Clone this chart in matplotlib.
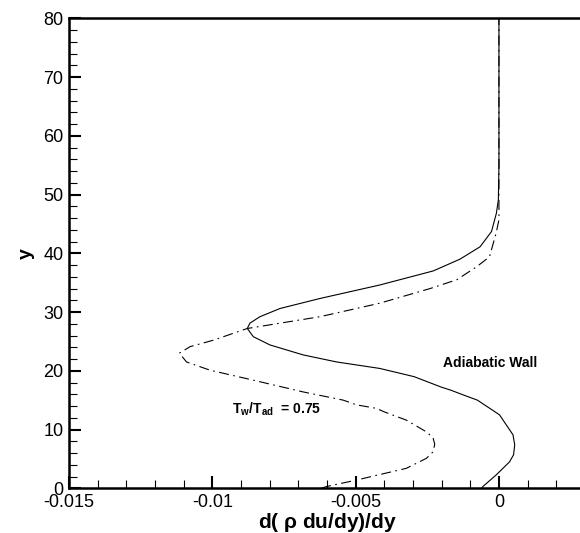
import matplotlib
matplotlib.use('Agg')
import matplotlib.pyplot as plt
from matplotlib.ticker import MultipleLocator

plt.rcParams['font.family'] = ['Liberation Sans', 'DejaVu Sans']
plt.rcParams['mathtext.fontset'] = 'custom'
plt.rcParams['mathtext.rm'] = 'Liberation Sans:bold'
plt.rcParams['mathtext.bf'] = 'Liberation Sans:bold'
plt.rcParams['mathtext.it'] = 'Liberation Sans:bold'

# adiabatic wall (solid)
adia_y = [0, 0.3, 2.3, 4.5, 5.7, 7.4, 9.1, 12.5, 15.0, 15.9, 16.7, 17.2, 19.0, 20.4,
          21.5, 22.7, 24.4, 25.8, 27.2, 28.1, 29.2, 30.6, 32.3, 34.6, 37.0, 39.0,
          41.1, 43.7, 46.8, 49.1, 55, 80]
adia_x = [-0.0006, -0.00056, -0.00009, 0.00037, 0.00051, 0.00055, 0.00049, 0.00002,
          -0.00075, -0.00125, -0.00168, -0.0020, -0.00296, -0.00416, -0.00566, -0.00683,
          -0.00799, -0.00857, -0.00878, -0.00869, -0.00834, -0.00764, -0.00625, -0.00416,
          -0.00229, -0.00136, -0.00066, -0.00026, -0.00009, -0.00002, 0.0, 0.0]

# Tw/Tad = 0.75 (dash-dot)
cold_y = [0, 0.3, 1.4, 3.4, 5.1, 6.2, 7.5, 8.6, 9.6, 11.6, 13.0, 13.6, 14.2, 15.0,
          16.4, 18.4, 20.1, 21.5, 23.0, 24.1, 25.2, 27.2, 29.2, 31.5, 34.0, 35.5,
          37.7, 39.4, 43.4, 45.7, 50, 80]
cold_x = [-0.0062, -0.00601, -0.00497, -0.00323, -0.00253, -0.0023, -0.00224, -0.0023,
          -0.00253, -0.00323, -0.0040, -0.00427, -0.00497, -0.00543, -0.00683, -0.00857,
          -0.01008, -0.0109, -0.01115, -0.01078, -0.00997, -0.00878, -0.00625, -0.00416,
          -0.0024, -0.00147, -0.00078, -0.00033, -0.0001, 0.0, 0.0, 0.0]

fig = plt.figure(figsize=(5.8, 5.33), dpi=100)
ax = fig.add_axes([0.119, 0.0839, 0.8895, 0.8818])

ax.plot(adia_x, adia_y, color='black', lw=0.8)
ax.plot(cold_x, cold_y, color='black', lw=0.8, linestyle=(0, (9, 4, 1.5, 4)))

ax.set_xlim(-0.015, 0.003)
ax.set_ylim(0, 80)

ax.xaxis.set_major_locator(MultipleLocator(0.005))
ax.xaxis.set_minor_locator(MultipleLocator(0.001))
ax.yaxis.set_major_locator(MultipleLocator(10))
ax.yaxis.set_minor_locator(MultipleLocator(2))
ax.set_xticks([-0.015, -0.01, -0.005, 0])
ax.set_xticklabels(['-0.015', '-0.01', '-0.005', '0'])

ax.tick_params(which='major', direction='in', length=8.6, width=1.5, labelsize=13, pad=4)
ax.tick_params(which='minor', direction='in', length=5.8, width=0.8)
for s in ax.spines.values():
    s.set_linewidth(1.8)

ax.set_xlabel(r'd( $\rho$ du/dy)/dy', fontsize=15, fontweight='bold', labelpad=0)
ax.set_ylabel('y', fontsize=14, fontweight='bold', labelpad=6)

ax.text(-0.00196, 21.3, 'Adiabatic Wall', fontsize=10, fontweight='bold', va='center')
ax.text(-0.00932, 13.5, r'$\mathbf{T_w/T_{ad}}$  = 0.75', fontsize=10, fontweight='bold',
        va='center')

fig.savefig('out.png', dpi=100)
